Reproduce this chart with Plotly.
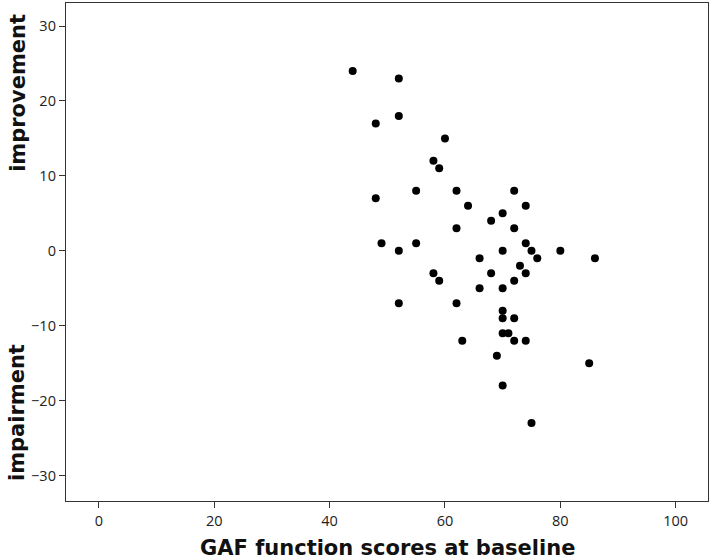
import plotly.graph_objects as go

gaf_baseline = [44, 52, 48, 52, 60, 58, 59, 48, 55, 62, 72, 64, 74, 70, 68, 62, 72,
                49, 55, 52, 74, 70, 75, 80, 66, 76, 86, 73, 58, 59, 68, 74, 72, 66,
                70, 52, 62, 70, 70, 72, 70, 71, 63, 72, 74, 69, 85, 70, 75]
change = [24, 23, 17, 18, 15, 12, 11, 7, 8, 8, 8, 6, 6, 5, 4, 3, 3,
          1, 1, 0, 1, 0, 0, 0, -1, -1, -1, -2, -3, -4, -3, -3, -4, -5,
          -5, -7, -7, -8, -9, -9, -11, -11, -12, -12, -12, -14, -15, -18, -23]

x_ticks = [0, 20, 40, 60, 80, 100]
y_ticks = [-30, -20, -10, 0, 10, 20, 30]

fig = go.Figure()
fig.add_trace(go.Scatter(
    x=gaf_baseline, y=change, mode="markers",
    marker=dict(color="black", size=8, line=dict(width=0)),
    showlegend=False, hoverinfo="x+y"))

axis_common = dict(showgrid=False, zeroline=False, showline=True, linecolor="#333333",
                   linewidth=1.3, mirror=True, ticks="outside", ticklen=6,
                   tickcolor="#333333", tickwidth=1.3,
                   tickfont=dict(family="Open Sans", size=14.5, color="#222222"))

title_font = dict(family="DejaVu Sans", size=21, color="#111111")

fig.update_layout(
    width=709, height=559,
    margin=dict(l=66, r=1, t=3, b=58),
    paper_bgcolor="white", plot_bgcolor="white",
    xaxis=dict(range=[-5.7, 105.6], tickvals=x_ticks, **axis_common),
    yaxis=dict(range=[-33.4, 33.07], tickvals=y_ticks, **axis_common),
    annotations=[
        dict(text="<b>GAF function scores at baseline</b>", xref="paper", yref="paper",
             x=0.5, y=-0.094, showarrow=False, xanchor="center", yanchor="middle",
             font=title_font),
        dict(text="<b>improvement</b>", xref="paper", yref="paper", x=-0.076, y=0.82,
             textangle=-90, showarrow=False, xanchor="center", yanchor="middle",
             font=title_font),
        dict(text="<b>impairment</b>", xref="paper", yref="paper", x=-0.076, y=0.177,
             textangle=-90, showarrow=False, xanchor="center", yanchor="middle",
             font=title_font),
    ],
)

fig.write_html("out.html", config={"displayModeBar": False},
               post_script="document.body.style.margin='0';document.body.style.padding='0';")
